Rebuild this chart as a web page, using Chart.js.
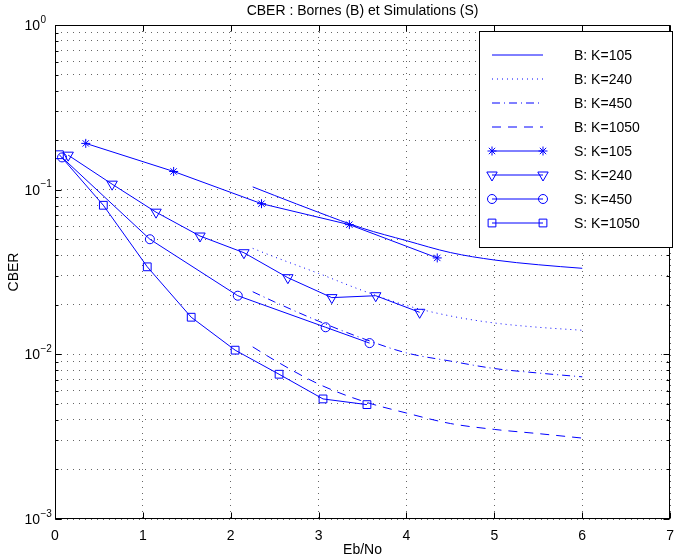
<!DOCTYPE html>
<html>
<head>
<meta charset="utf-8">
<script src="https://cdn.jsdelivr.net/npm/chart.js@4.4.1/dist/chart.umd.min.js"></script>
<style>
  html, body { margin: 0; padding: 0; background: #fff; }
</style>
</head>
<body>
<canvas id="cberChart" width="683" height="560"></canvas>
<script>
// Simulations (S) : Eb/No and CBER
const simEbNo105 = [0.35, 1.35, 2.35, 3.35, 4.35];
const simCber105 = [0.191, 0.129, 0.0822, 0.0613, 0.0385];
const simEbNo240 = [0.15, 0.65, 1.15, 1.65, 2.15, 2.65, 3.15, 3.65, 4.15];
const simCber240 = [0.162, 0.108, 0.073, 0.0523, 0.0414, 0.0292, 0.0221, 0.0227, 0.018];
const simEbNo450 = [0.08, 1.08, 2.08, 3.08, 3.58];
const simCber450 = [0.157, 0.050, 0.0227, 0.0146, 0.0117];
const simEbNo1050 = [0.05, 0.55, 1.05, 1.55, 2.05, 2.55, 3.05, 3.55];
const simCber1050 = [0.163, 0.0804, 0.034, 0.0168, 0.0106, 0.00757, 0.00536, 0.00495];

// Bornes (B)
const boundEbNo = [2.25, 2.5, 3, 3.5, 4, 4.5, 5, 5.5, 6];
const boundCber105 = [0.104, 0.0922, 0.0728, 0.0583, 0.049, 0.0415, 0.0374, 0.035, 0.0333];
const boundCber240 = [0.044, 0.039, 0.031, 0.0244, 0.0198, 0.0171, 0.0155, 0.0146, 0.0140];
const boundCber450 = [0.0240, 0.0208, 0.0159, 0.0125, 0.0102, 0.0091, 0.0082, 0.0077, 0.0073];
const boundCber1050 = [0.0111, 0.0092, 0.0066, 0.0052, 0.0044, 0.0038, 0.0035, 0.0033, 0.0031];

// axes
const xTicks = [0, 1, 2, 3, 4, 5, 6, 7];
const yExponents = [-3, -2, -1, 0];
const yMinorSteps = [2, 3, 4, 5, 6, 7, 8, 9];

const titleText = 'CBER : Bornes (B) et Simulations (S)';
const xLabel = 'Eb/No';
const yLabel = 'CBER';

const blue = '#0000ff';
const fontFamily = '"Liberation Sans", Arial, Helvetica, sans-serif';

function pts(xs, ys) {
  return xs.map((x, i) => ({ x: x, y: ys[i] }));
}

function boundSet(label, ys, dash) {
  return {
    label: label,
    data: pts(boundEbNo, ys),
    borderColor: blue,
    borderWidth: 1,
    borderDash: dash,
    pointRadius: 0,
    cubicInterpolationMode: 'monotone',
    fill: false
  };
}

function simSet(label, xs, ys, style, radius, rotation) {
  return {
    label: label,
    data: pts(xs, ys),
    borderColor: blue,
    borderWidth: 1,
    pointStyle: style,
    pointRadius: radius,
    pointRotation: rotation || 0,
    pointBorderColor: blue,
    pointBackgroundColor: 'rgba(0,0,0,0)',
    pointBorderWidth: 1,
    fill: false
  };
}

// y ticks: every 1..9 x 10^k
const yTickValues = [];
yExponents.forEach(e => {
  yTickValues.push(Math.pow(10, e));
  if (e < 0) yMinorSteps.forEach(m => yTickValues.push(m * Math.pow(10, e)));
});

const gridColor = 'rgba(0,0,0,0.6)';

const frameAndText = {
  id: 'frameAndText',
  afterDraw(chart) {
    const ctx = chart.ctx;
    const a = chart.chartArea;
    const xs = chart.scales.x;
    const ys = chart.scales.y;
    ctx.save();
    ctx.strokeStyle = '#000';
    ctx.lineWidth = 1;
    const L = Math.round(a.left) + 0.5, R = Math.round(a.right) - 0.5;
    const T = Math.round(a.top) + 0.5, B = Math.round(a.bottom) - 0.5;
    ctx.strokeRect(L, T, R - L, B - T);

    // tick marks, inward, on all four sides
    ctx.beginPath();
    ys.ticks.forEach(t => {
      const y = Math.round(ys.getPixelForValue(t.value)) + 0.5;
      const major = Math.abs(Math.log10(t.value) - Math.round(Math.log10(t.value))) < 1e-9;
      const len = major ? 6 : 3;
      ctx.moveTo(L, y); ctx.lineTo(L + len, y);
      ctx.moveTo(R, y); ctx.lineTo(R - len, y);
    });
    xTicks.forEach(v => {
      const x = Math.round(xs.getPixelForValue(v)) + 0.5;
      ctx.moveTo(x, B); ctx.lineTo(x, B - 6);
      ctx.moveTo(x, T); ctx.lineTo(x, T + 6);
    });
    ctx.stroke();

    // y tick labels 10^k
    ctx.fillStyle = '#000';
    yExponents.forEach(e => {
      const y = ys.getPixelForValue(Math.pow(10, e));
      ctx.font = '14px ' + fontFamily;
      ctx.textAlign = 'right';
      ctx.textBaseline = 'middle';
      ctx.fillText('10', 40, y + 1);
      ctx.font = '10px ' + fontFamily;
      ctx.textAlign = 'left';
      ctx.fillText(e === 0 ? '0' : '\u2212' + Math.abs(e), 40.5, y - 5);
    });

    // titles
    const cx = (a.left + a.right) / 2;
    ctx.font = '14px ' + fontFamily;
    ctx.textAlign = 'center';
    ctx.textBaseline = 'middle';
    ctx.fillText(titleText, cx, 11);
    ctx.fillText(xLabel, cx, 550);
    ctx.save();
    ctx.translate(14, (a.top + a.bottom) / 2);
    ctx.rotate(-Math.PI / 2);
    ctx.fillText(yLabel, 0, 0);
    ctx.restore();
    ctx.restore();
  }
};

const boxLegend = {
  id: 'boxLegend',
  afterDraw(chart) {
    const ctx = chart.ctx;
    const left = 479.5, top = 31.5, right = 672.5, bottom = 247.5;
    ctx.save();
    ctx.fillStyle = '#fff';
    ctx.fillRect(left, top, right - left, bottom - top);
    ctx.strokeStyle = '#000';
    ctx.lineWidth = 1;
    ctx.strokeRect(left, top, right - left, bottom - top);
    chart.data.datasets.forEach((ds, i) => {
      const y = Math.round(54.7 + i * 24.1);
      const x1 = 492, x2 = 543;
      ctx.strokeStyle = '#0000ff';
      ctx.lineWidth = 1;
      ctx.setLineDash(ds.borderDash || []);
      ctx.beginPath();
      ctx.moveTo(x1, y);
      ctx.lineTo(x2, y);
      ctx.stroke();
      ctx.setLineDash([]);
      if (ds.pointRadius > 0) {
        ctx.fillStyle = 'rgba(0,0,0,0)';
        [x1, x2].forEach(px => {
          Chart.helpers.drawPoint(ctx, {
            pointStyle: ds.pointStyle,
            rotation: ds.pointRotation || 0,
            radius: ds.pointRadius,
            borderWidth: 1
          }, px, y);
        });
      }
      ctx.fillStyle = '#000';
      ctx.font = '14px ' + fontFamily;
      ctx.textAlign = 'left';
      ctx.textBaseline = 'middle';
      ctx.fillText(ds.label, 574, y + 1);
    });
    ctx.restore();
  }
};

const cberChart = new Chart(document.getElementById('cberChart'), {
  type: 'line',
  data: {
    datasets: [
      boundSet('B: K=105', boundCber105, []),
      boundSet('B: K=240', boundCber240, [1, 4]),
      boundSet('B: K=450', boundCber450, [8, 4, 1, 4]),
      boundSet('B: K=1050', boundCber1050, [9, 7]),
      simSet('S: K=105', simEbNo105, simCber105, 'star', 4.5),
      simSet('S: K=240', simEbNo240, simCber240, 'triangle', 6, 180),
      simSet('S: K=450', simEbNo450, simCber450, 'circle', 4.5),
      simSet('S: K=1050', simEbNo1050, simCber1050, 'rect', 5.5)
    ]
  },
  options: {
    responsive: false,
    animation: false,
    devicePixelRatio: 1,
    layout: { padding: { top: 25, right: 1, left: 0, bottom: 0 } },
    plugins: {
      legend: { display: false },
      title: { display: false },
      tooltip: { enabled: false }
    },
    scales: {
      x: {
        type: 'linear',
        min: 0,
        max: 7,
        afterBuildTicks: s => { s.ticks = xTicks.map(v => ({ value: v })); },
        afterFit: s => { s.height = 41; },
        grid: { color: gridColor, lineWidth: 1, drawTicks: false },
        border: { display: false, dash: [1, 5] },
        ticks: {
          color: '#000',
          font: { family: fontFamily, size: 14 },
          padding: 9,
          maxRotation: 0,
          autoSkip: false
        }
      },
      y: {
        type: 'logarithmic',
        min: 0.001,
        max: 1,
        afterBuildTicks: s => { s.ticks = yTickValues.map(v => ({ value: v })); },
        afterFit: s => { s.width = 55; },
        grid: { color: gridColor, lineWidth: 1, drawTicks: false },
        border: { display: false, dash: [1, 5] },
        ticks: { display: false }
      }
    }
  },
  plugins: [frameAndText, boxLegend]
});
</script>
</body>
</html>
